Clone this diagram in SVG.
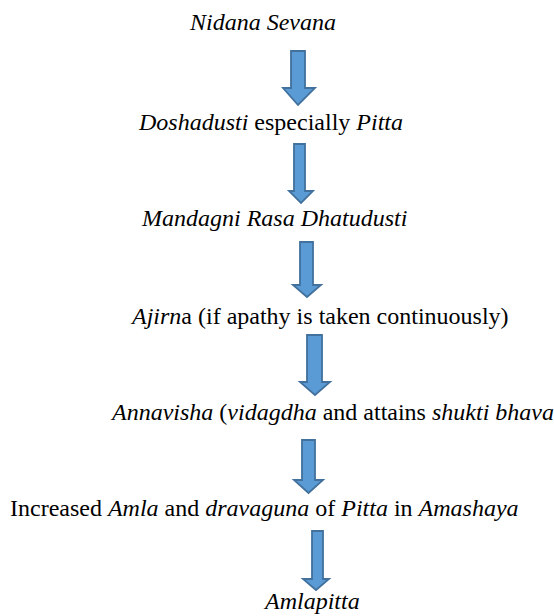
<svg xmlns="http://www.w3.org/2000/svg" width="554" height="616" viewBox="0 0 554 616">
<rect width="554" height="616" fill="#fff"/>
<g id="n1"><text x="190" y="30" font-family="'Liberation Serif'" font-size="24" font-style="italic">Nidana Sevana</text></g>
<g id="n2"><text x="139" y="130" font-family="'Liberation Serif'" font-size="24"><tspan font-style="italic">Doshadusti</tspan> especially <tspan font-style="italic">Pitta</tspan></text></g>
<g id="n3"><text x="142" y="226" font-family="'Liberation Serif'" font-size="24" font-style="italic">Mandagni Rasa Dhatudusti</text></g>
<g id="n4"><text x="132" y="324" font-family="'Liberation Serif'" font-size="24"><tspan font-style="italic">Ajirn</tspan>a (if apathy is taken continuously)</text></g>
<g id="n5"><text x="112" y="420" font-family="'Liberation Serif'" font-size="24"><tspan font-style="italic">Annavisha</tspan> (<tspan font-style="italic">vidagdha</tspan> and attains <tspan font-style="italic">shukti bhava</tspan>)</text></g>
<g id="n6"><text x="10" y="516" font-family="'Liberation Serif'" font-size="24">Increased <tspan font-style="italic">Amla</tspan> and <tspan font-style="italic">dravaguna</tspan> of <tspan font-style="italic">Pitta</tspan> in <tspan font-style="italic">Amashaya</tspan></text></g>
<g id="n7"><text x="265" y="609" font-family="'Liberation Serif'" font-size="24" font-style="italic">Amlapitta</text></g>
<g id="connectors" fill="#5b9bd5" stroke="#41719c" stroke-width="1.8">
<polygon points="291,51 305,51 305,88 315,88 298,105 283,88 291,88"/>
<polygon points="294,144 305,144 305,191 313,191 301,203 289,191 294,191"/>
<polygon points="300,242 313,242 313,285 321,285 307,297 293,285 300,285"/>
<polygon points="307,335 322,335 322,382 330,382 315,395 300,382 307,382"/>
<polygon points="302,440 315,440 315,480 323,480 308.5,493 294,480 302,480"/>
<polygon points="312,531 323,531 323,579 329,579 316,590 303,579 312,579"/>
</g>
</svg>
